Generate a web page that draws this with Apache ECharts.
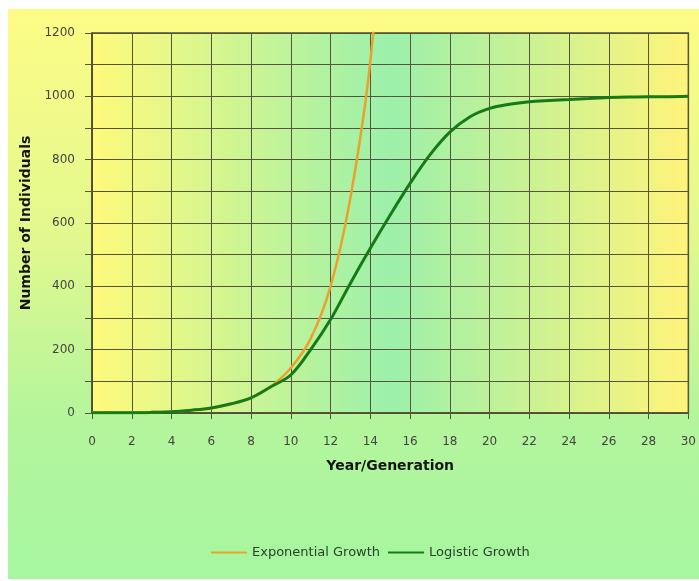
<!DOCTYPE html>
<html>
<head>
<meta charset="utf-8">
<script src="https://cdn.jsdelivr.net/npm/echarts@6/dist/echarts.min.js"></script>
<style>
  html, body { margin: 0; padding: 0; background: #ffffff; }
  #chart { position: absolute; left: 8px; top: 9px; width: 691px; height: 570px; }
</style>
</head>
<body>
<div id="chart"></div>
<script>
// Year/Generation values shared by both curves
const years = [0, 1, 2, 3, 4, 5, 6, 7, 8, 9, 10, 11, 12, 13, 14, 15, 16, 17, 18, 19, 20,
               21, 22, 23, 24, 25, 26, 27, 28, 29, 30];

// Exponential growth: runs off the top of the plot just after year 14
const exponentialYears = [0, 1, 2, 3, 4, 5, 6, 7, 8, 9, 10, 11, 12, 13, 14, 15];
const exponentialValues = [1, 1.5, 2, 3, 5, 9, 16, 28, 48, 84, 142, 235, 400, 680, 1110, 1850];

// Logistic growth: levels off at a carrying capacity of 1000
const logisticValues = [1, 1, 1, 2, 4, 9, 16, 29, 48, 83, 120, 200, 295, 410, 520, 625, 725, 815,
                        887, 935, 962, 975, 983, 987, 990, 993, 996, 998, 999, 999, 1000];

const xTicks = [0, 2, 4, 6, 8, 10, 12, 14, 16, 18, 20, 22, 24, 26, 28, 30];
const yTicks = [0, 200, 400, 600, 800, 1000, 1200];

const seriesNames = ['Exponential Growth', 'Logistic Growth'];
const seriesColors = ['#eca22a', '#167a16'];

const pair = (xs, ys) => xs.map((x, i) => [x, ys[i]]);

const chart = echarts.init(document.getElementById('chart'), null, { renderer: 'canvas' });

const fontFace = 'DejaVu Sans, Verdana, sans-serif';
const gridLine = { show: true, lineStyle: { color: '#55553f', width: 1 } };
const axisText = { color: '#444444', fontFamily: fontFace, fontSize: 12 };
const titleText = { color: '#141414', fontWeight: 'bold', fontSize: 14, fontFamily: fontFace };

chart.setOption({
  animation: false,
  backgroundColor: new echarts.graphic.LinearGradient(0, 0, 0, 1, [
    { offset: 0, color: '#fdfc86' },
    { offset: 0.4, color: '#e2f88e' },
    { offset: 0.72, color: '#b4f59c' },
    { offset: 1, color: '#a6f6a0' }
  ]),
  grid: {
    left: 84, right: 7, top: 24, bottom: 166,
    show: true,
    borderColor: '#4e4e30',
    borderWidth: 1.5,
    backgroundColor: new echarts.graphic.LinearGradient(0, 0, 1, 0, [
      { offset: 0, color: '#fffa7c' },
      { offset: 0.5, color: '#9cf0aa' },
      { offset: 1, color: '#fff47a' }
    ])
  },
  legend: {
    top: 532,
    left: 198,
    itemWidth: 36,
    itemHeight: 14,
    itemGap: 8,
    icon: 'path://M0,6 L36,6 L36,8 L0,8 Z',
    textStyle: { color: '#2a422a', fontFamily: fontFace, fontSize: 13 },
    data: seriesNames
  },
  xAxis: {
    type: 'value',
    min: 0, max: 30, interval: 2,
    name: 'Year/Generation',
    nameLocation: 'middle',
    nameGap: 46,
    nameTextStyle: titleText,
    axisLine: { show: true, lineStyle: { color: '#4e4e30', width: 1.5 } },
    axisTick: { show: true, inside: false, length: 6, lineStyle: { color: '#55553f' } },
    axisLabel: Object.assign({ margin: 23, formatter: v => (xTicks.includes(v) ? String(v) : '') }, axisText),
    splitLine: gridLine
  },
  yAxis: {
    type: 'value',
    min: 0, max: 1200, interval: 100,
    name: 'Number of Individuals',
    nameLocation: 'middle',
    nameGap: 52,
    nameTextStyle: titleText,
    axisLine: { show: true, lineStyle: { color: '#4e4e30', width: 1.5 } },
    axisTick: { show: true, inside: false, length: 7, lineStyle: { color: '#55553f' } },
    axisLabel: Object.assign({ margin: 17, formatter: v => (yTicks.includes(v) ? String(v) : '') }, axisText),
    splitLine: gridLine
  },
  series: [
    {
      name: seriesNames[0],
      type: 'line',
      data: pair(exponentialYears, exponentialValues),
      smooth: 0.35,
      showSymbol: false,
      clip: true,
      color: seriesColors[0],
      lineStyle: { color: seriesColors[0], width: 2.5 },
      z: 2
    },
    {
      name: seriesNames[1],
      type: 'line',
      data: pair(years, logisticValues),
      smooth: 0.35,
      showSymbol: false,
      clip: true,
      color: seriesColors[1],
      lineStyle: { color: seriesColors[1], width: 3 },
      z: 3
    }
  ]
});
</script>
</body>
</html>
